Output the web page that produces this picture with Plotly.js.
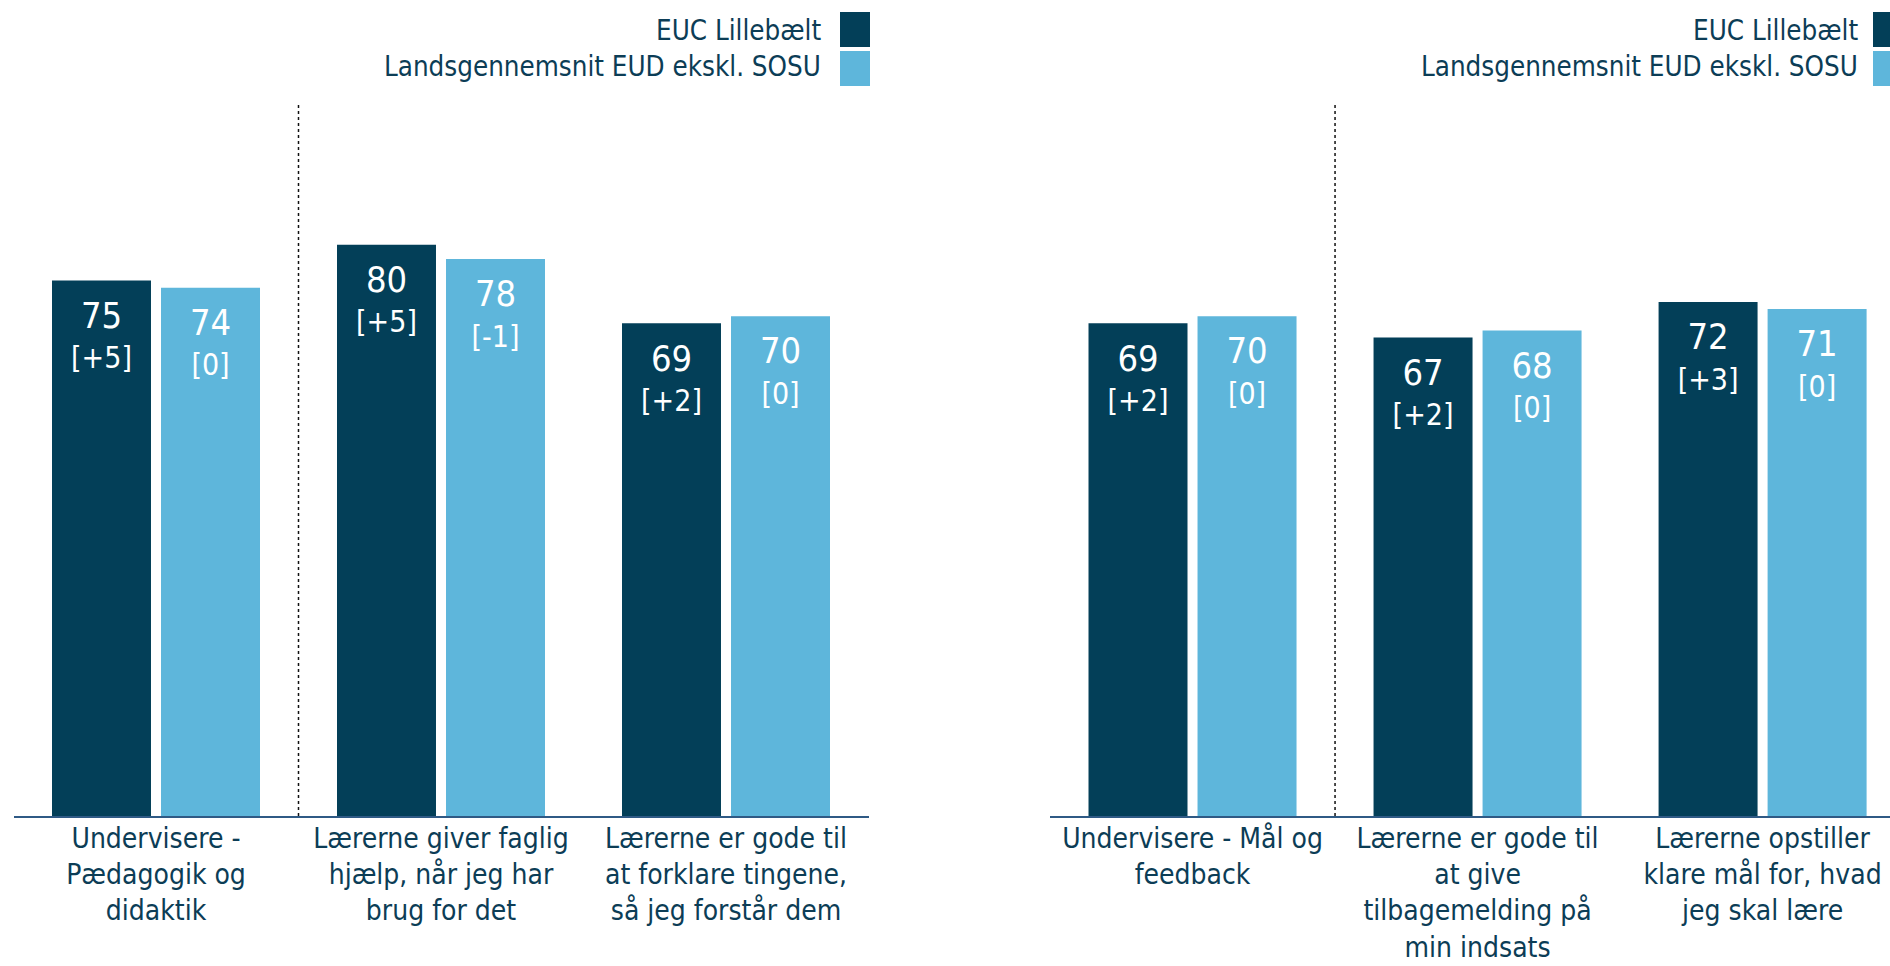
<!DOCTYPE html>
<html><head><meta charset="utf-8">
<script src="https://cdn.plot.ly/plotly-3.0.1.min.js"></script>
<style>html,body{margin:0;padding:0;background:#fff;overflow:hidden}#chart{width:1890px;height:966px}</style>
</head><body><div id="chart"></div>
<script>
// ---- data ----
const seriesNames = ['EUC Lillebælt', 'Landsgennemsnit EUD ekskl. SOSU'];
const leftCategories = ['Undervisere -<br>Pædagogik og<br>didaktik', 'Lærerne giver faglig<br>hjælp, når jeg har<br>brug for det', 'Lærerne er gode til<br>at forklare tingene,<br>så jeg forstår dem'];
const leftEUC = [75, 80, 69];
const leftEUCChange = ['+5', '+5', '+2'];
const leftNational = [74, 78, 70];
const leftNationalChange = ['0', '-1', '0'];
const rightCategories = ['Undervisere - Mål og<br>feedback', 'Lærerne er gode til<br>at give<br>tilbagemelding på<br>min indsats', 'Lærerne opstiller<br>klare mål for, hvad<br>jeg skal lære'];
const rightEUC = [69, 67, 72];
const rightEUCChange = ['+2', '+2', '+3'];
const rightNational = [70, 68, 71];
const rightNationalChange = ['0', '0', '0'];

// ---- style ----
const W = 1890, H = 966;
const FONT = "'DejaVu Sans Condensed', 'DejaVu Sans', sans-serif";
const DARK = '#033F58';
const LIGHT = '#5EB6DB';
const TEXT = '#0C3D56';
const px = x => x / W;
const py = y => (H - y) / H;

const tmpl = '<span style="font-size:4.5px">\u00a0</span><br><span style="font-size:36px">%{y}</span><br><span style="font-size:30px">[%{customdata}]</span>';
function bar(x, y, cd, color, xa, ya) {
  return {type: 'bar', x: x, y: y, customdata: cd, xaxis: xa, yaxis: ya,
    marker: {color: color, line: {width: 0}},
    texttemplate: tmpl, textposition: 'inside', insidetextanchor: 'end',
    textfont: {family: FONT, size: 31, color: '#ffffff'},
    constraintext: 'none', showlegend: false, hoverinfo: 'skip'};
}
const data = [
  bar(leftCategories, leftEUC, leftEUCChange, DARK, 'x', 'y'),
  bar(leftCategories, leftNational, leftNationalChange, LIGHT, 'x', 'y'),
  bar(rightCategories, rightEUC, rightEUCChange, DARK, 'x2', 'y2'),
  bar(rightCategories, rightNational, rightNationalChange, LIGHT, 'x2', 'y2')
];

const xaxBase = {type: 'category', showline: true, linecolor: '#2F5A85', linewidth: 2,
  ticks: '', showgrid: false, zeroline: false, fixedrange: true, ticklabelstandoff: -4,
  tickfont: {family: FONT, size: 28, color: TEXT}};
const yaxBase = {range: [0, 100], visible: false, fixedrange: true,
  domain: [py(816), py(102)]};

const shapes = [];
[['x', 'y'], ['x2', 'y2']].forEach(([xa, ya]) => {
  shapes.push({type: 'line', xref: xa, yref: ya, x0: 0.5, x1: 0.5, y0: 0, y1: 100,
    line: {color: '#111111', width: 1.5, dash: 'dot'}});
});
const annotations = [];
// legends (left and right, right one cropped at page edge)
[[823, 840], [1860, 1873]].forEach(([textRight, boxLeft]) => {
  [[30, 12, 47, DARK, seriesNames[0]], [66, 51, 86, LIGHT, seriesNames[1]]].forEach(([cy, y0, y1, col, name]) => {
    shapes.push({type: 'rect', xref: 'paper', yref: 'paper', x0: px(boxLeft), x1: px(boxLeft + 30),
      y0: py(y1), y1: py(y0), fillcolor: col, line: {width: 0}});
    annotations.push({xref: 'paper', yref: 'paper', x: px(textRight), y: py(cy), xanchor: 'right', yanchor: 'middle',
      text: name, showarrow: false, font: {family: FONT, size: 27.5, color: TEXT}});
  });
});

const layout = {
  width: W, height: H, margin: {l: 0, r: 0, t: 0, b: 0},
  paper_bgcolor: '#ffffff', plot_bgcolor: 'rgba(0,0,0,0)',
  barmode: 'group', bargap: 0.235, bargroupgap: 0.092,
  showlegend: false,
  xaxis: Object.assign({}, xaxBase, {domain: [px(13.5), px(868.5)], range: [-0.5, 2.5], anchor: 'y'}),
  yaxis: Object.assign({}, yaxBase, {anchor: 'x'}),
  xaxis2: Object.assign({}, xaxBase, {domain: [px(1050), 1], range: [-0.5, 2.447], anchor: 'y2'}),
  yaxis2: Object.assign({}, yaxBase, {anchor: 'x2'}),
  shapes: shapes, annotations: annotations,
  font: {family: FONT, color: TEXT}
};
Plotly.newPlot('chart', data, layout, {staticPlot: true, displayModeBar: false});
</script>
</body></html>
